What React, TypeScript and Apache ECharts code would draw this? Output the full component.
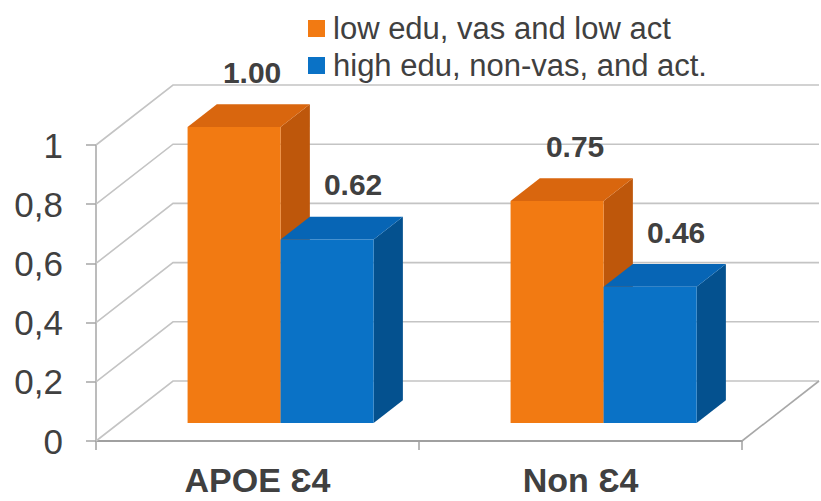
import { useEffect, useRef } from "react";
import * as echarts from "echarts";

const categories = ["APOE Ɛ4", "Non Ɛ4"];
const seriesNames = ["low edu, vas and low act", "high edu, non-vas, and act."];
const lowValues = [1.0, 0.75];
const highValues = [0.62, 0.46];
const yTicks = [0, 0.2, 0.4, 0.6, 0.8, 1];

// Perspective offset (px) spanning the whole depth of the plot box
const DEPTH_X = 77;
const DEPTH_Y = -60;
const BAR_FRONT = 0.3; // depth fraction where bar fronts sit
const BAR_DEPTH = 0.38; // depth fraction occupied by a bar
const BAR_WIDTH = 0.288; // share of a category band per bar
const LABEL_DX = [18, 26];
const LABEL_DY = -32;

const FONT = "'Liberation Sans', Arial, sans-serif";
const TEXT_COLOR = "#404040";

const palettes = [
  { front: "#F27A12", top: "#D9660E", side: "#BE570B" },
  { front: "#0A72C6", top: "#0765B5", side: "#04518F" },
];

const makeBarRender = (slot: number) => (params: any, api: any) => {
  const cat = api.value(0);
  const val = api.value(1);
  const base = api.coord([cat, 0]);
  const top = api.coord([cat, val]);
  const band = api.size([1, 0])[0];
  const w = band * BAR_WIDTH;
  const ox = DEPTH_X * BAR_FRONT;
  const oy = DEPTH_Y * BAR_FRONT;
  const dx = DEPTH_X * BAR_DEPTH;
  const dy = DEPTH_Y * BAR_DEPTH;
  const x0 = base[0] + ox + (slot === 0 ? -w : 0);
  const x1 = x0 + w;
  const yb = base[1] + oy;
  const yt = top[1] + oy;
  const pal = palettes[slot];
  return {
    type: "group",
    children: [
      {
        type: "polygon",
        shape: { points: [[x1, yb], [x1 + dx, yb + dy], [x1 + dx, yt + dy], [x1, yt]] },
        style: { fill: pal.side },
      },
      {
        type: "polygon",
        shape: { points: [[x0, yt], [x0 + dx, yt + dy], [x1 + dx, yt + dy], [x1, yt]] },
        style: { fill: pal.top },
      },
      {
        type: "rect",
        shape: { x: x0, y: yt, width: w, height: yb - yt },
        style: { fill: pal.front },
      },
      {
        type: "text",
        style: {
          text: val.toFixed(2),
          x: x0 + w / 2 + LABEL_DX[slot],
          y: yt + dy + LABEL_DY,
          align: "center",
          verticalAlign: "middle",
          fontSize: 30,
          fontWeight: "bold",
          fontFamily: FONT,
          fill: TEXT_COLOR,
        },
      },
    ],
  };
};

// Back wall gridlines and the floor outline
const renderWall = (params: any, api: any) => {
  const v = api.value(1);
  const cs = params.coordSys;
  const y = api.coord([0, v])[1];
  const left = cs.x;
  const right = cs.x + cs.width;
  const lineStyle = { stroke: "#C4C4C4", lineWidth: 1.6, fill: null };
  const children: any[] = [
    {
      type: "polyline",
      shape: { points: [[left, y], [left + DEPTH_X, y + DEPTH_Y], [right + DEPTH_X, y + DEPTH_Y]] },
      style: lineStyle,
    },
  ];
  if (v === 0) {
    children.push({
      type: "line",
      shape: { x1: right, y1: y, x2: right + DEPTH_X, y2: y + DEPTH_Y },
      style: { stroke: "#A8A8A8", lineWidth: 1.6 },
    });
  }
  return { type: "group", children };
};

export default function App() {
  const ref = useRef<HTMLDivElement>(null);

  useEffect(() => {
    if (!ref.current) return;
    document.body.style.margin = "0";
    const chart = echarts.init(ref.current, undefined, { renderer: "svg" });
    chart.setOption({
      animation: false,
      backgroundColor: "#FFFFFF",
      grid: { left: 96, right: 79, top: 145, bottom: 60 },
      legend: {
        orient: "vertical",
        left: 303,
        top: 8,
        itemWidth: 17,
        itemHeight: 17,
        itemGap: 6,
        icon: "rect",
        data: seriesNames,
        textStyle: {
          fontSize: 31,
          lineHeight: 31,
          color: TEXT_COLOR,
          fontFamily: FONT,
          padding: [0, 0, 0, 3],
        },
      },
      xAxis: {
        type: "category",
        data: categories,
        axisLine: { lineStyle: { color: "#A0A0A0", width: 2 } },
        axisTick: { show: true, length: 9, lineStyle: { color: "#A0A0A0", width: 1.5 } },
        axisLabel: {
          fontSize: 34,
          lineHeight: 28,
          fontWeight: "bold",
          color: TEXT_COLOR,
          fontFamily: FONT,
          margin: 25,
        },
        splitLine: { show: false },
      },
      yAxis: {
        type: "value",
        min: 0,
        max: 1,
        interval: 0.2,
        axisLine: { show: true, lineStyle: { color: "#A6A6A6", width: 1.5 } },
        axisTick: { show: true, length: 10, lineStyle: { color: "#A6A6A6", width: 1.5 } },
        axisLabel: {
          fontSize: 35,
          color: TEXT_COLOR,
          fontFamily: FONT,
          margin: 33,
          formatter: (v: number) => String(v).replace(".", ","),
        },
        splitLine: { show: false },
      },
      series: [
        {
          type: "custom",
          silent: true,
          clip: false,
          renderItem: renderWall,
          data: yTicks.map((v) => [0, v]),
          z: 1,
        },
        {
          type: "custom",
          name: seriesNames[0],
          clip: false,
          itemStyle: { color: palettes[0].front },
          renderItem: makeBarRender(0),
          data: lowValues.map((v, i) => [i, v]),
          z: 2,
        },
        {
          type: "custom",
          name: seriesNames[1],
          clip: false,
          itemStyle: { color: palettes[1].front },
          renderItem: makeBarRender(1),
          data: highValues.map((v, i) => [i, v]),
          z: 3,
        },
      ],
    });
    return () => chart.dispose();
  }, []);

  return (
    <div
      ref={ref}
      style={{ width: 821, height: 501, position: "absolute", left: 0, top: 0 }}
    />
  );
}
